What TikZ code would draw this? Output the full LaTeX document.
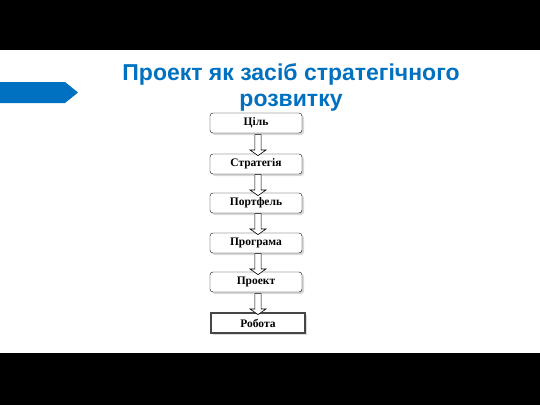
\documentclass[tikz,border=0pt]{standalone}
\usepackage{fontspec}
\setmainfont{Liberation Serif}
\newfontfamily\titlefont{Liberation Sans}
\usetikzlibrary{shapes.arrows, shadows}
\definecolor{slideblue}{RGB}{0,112,192}
\tikzset{
    stage/.style={draw, rounded corners=3pt, fill=white, minimum height=20pt, minimum width=92pt,
        font=\fontsize{11.5}{13}\selectfont\bfseries, drop shadow={shadow xshift=2pt, shadow yshift=-2pt, fill=gray!60}},
    laststage/.style={draw=black, double=gray!55!black, double distance=1.6pt, line width=0.6pt, fill=white,
        minimum height=20pt, minimum width=94pt, font=\fontsize{11.5}{13}\selectfont\bfseries,
        drop shadow={shadow xshift=2pt, shadow yshift=-2pt, fill=gray!60}},
    downarrow/.style={draw, single arrow, shape border rotate=270, fill=white, minimum height=21pt,
        minimum width=16pt, single arrow head extend=3.5pt, single arrow tip angle=110, inner sep=2pt, line width=0.6pt}
}

\begin{document}
\begin{tikzpicture}[x=1pt, y=-1pt]
    \useasboundingbox (0,0) rectangle (540,405);
    \fill[black] (0,0) rectangle (540,50);
    \fill[black] (0,353) rectangle (540,405);
    \fill[slideblue] (0,82) -- (65,82) -- (78,92.5) -- (65,103) -- (0,103) -- cycle;

    \node[text=slideblue, align=center, font=\titlefont\fontsize{23}{26}\selectfont\bfseries] (title) at (291,87)
        {Проект як засіб стратегічного\\розвитку};

    \node[stage] (goal) at (256,123) {Ціль};
    \node[stage] (strategy) at (256,164) {Стратегія};
    \node[stage] (portfolio) at (256,203) {Портфель};
    \node[stage] (program) at (256,243) {Програма};
    \node[stage] (project) at (256,282) {Проект};
    \node[laststage] (work) at (258,323) {Робота};

    \node[downarrow] (a1) at (258,144) {};
    \node[downarrow] (a2) at (258,184) {};
    \node[downarrow] (a3) at (258,223) {};
    \node[downarrow] (a4) at (258,263) {};
    \node[downarrow] (a5) at (258,303) {};
\end{tikzpicture}
\end{document}
